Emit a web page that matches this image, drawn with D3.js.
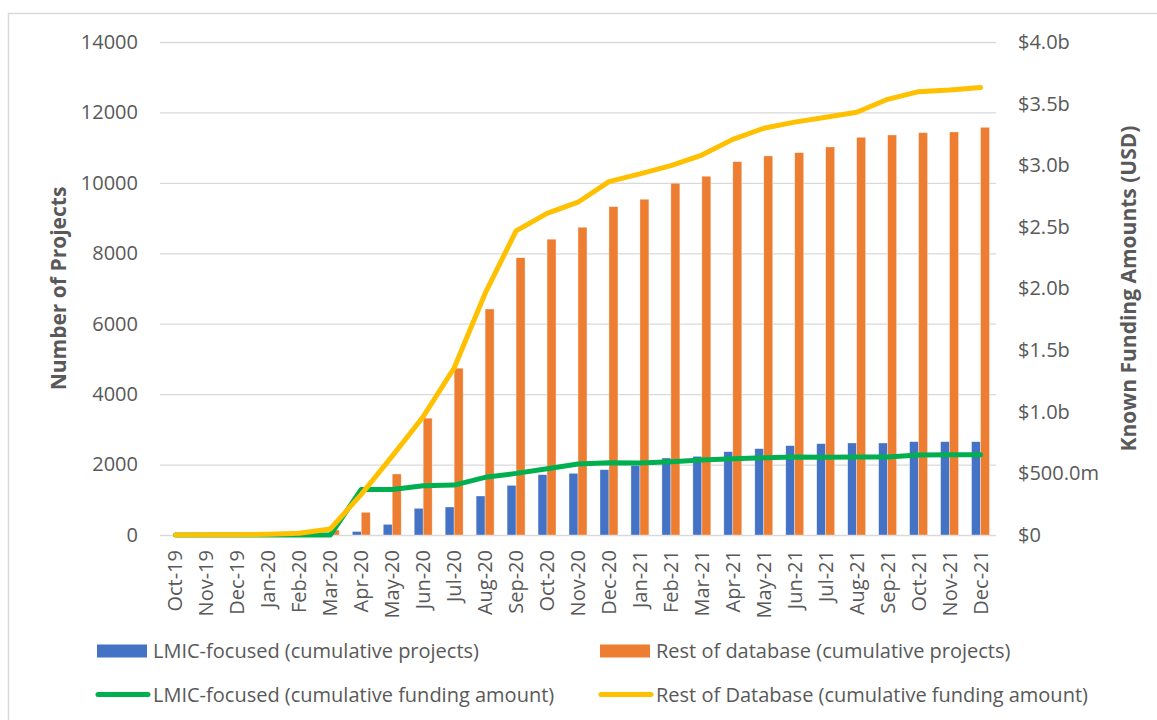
<!DOCTYPE html>
<html>
<head>
<meta charset="utf-8">
<script src="https://cdn.jsdelivr.net/npm/d3@7"></script>
<style>
  body { margin: 0; background: #fff; }
  svg { display: block; font-family: "Open Sans", sans-serif; }
</style>
</head>
<body>
<svg width="1157" height="720"></svg>
<script>
// data
const months = ['Oct-19','Nov-19','Dec-19','Jan-20','Feb-20','Mar-20','Apr-20','May-20','Jun-20',
  'Jul-20','Aug-20','Sep-20','Oct-20','Nov-20','Dec-20','Jan-21','Feb-21','Mar-21','Apr-21',
  'May-21','Jun-21','Jul-21','Aug-21','Sep-21','Oct-21','Nov-21','Dec-21'];

// cumulative projects (left axis)
const lmicProjects = [0,0,0,0,0,15,100,303,758,795,1108,1411,1713,1752,1855,1978,2187,2234,2366,
  2452,2537,2594,2613,2613,2651,2651,2651];
const restProjects = [0,0,0,0,0,142,645,1733,3318,4738,6418,7875,8400,8740,9325,9535,9990,10188,
  10603,10765,10857,11019,11295,11360,11426,11445,11578];

// cumulative funding, billions USD (right axis)
const lmicFunding = [0,0,0,0,0,0,0.37,0.37,0.40,0.405,0.468,0.50,0.538,0.576,0.587,0.584,0.595,
  0.608,0.619,0.627,0.633,0.630,0.633,0.633,0.649,0.651,0.651];
const restFunding = [0.001,0.002,0.003,0.006,0.014,0.049,0.33,0.64,0.96,1.355,1.96,2.467,2.61,2.70,
  2.867,2.93,2.997,3.083,3.21,3.30,3.35,3.39,3.43,3.535,3.597,3.61,3.63];

const projectTicks = [0,2000,4000,6000,8000,10000,12000,14000];
const fundingTicks = [0,0.5,1.0,1.5,2.0,2.5,3.0,3.5,4.0];
const fundingLabels = ['$0','$500.0m','$1.0b','$1.5b','$2.0b','$2.5b','$3.0b','$3.5b','$4.0b'];

const seriesNames = ['LMIC-focused (cumulative projects)','Rest of database (cumulative projects)',
  'LMIC-focused (cumulative funding amount)','Rest of Database (cumulative funding amount)'];
const colors = ['#4472C4','#ED7D31','#00B050','#FFC000'];

const $svg = d3.select('svg');
const plot = {left: 160, right: 996, top: 42, bottom: 535};
const textColor = '#595959';
const gridColor = '#d9d9d9';

// outer chart frame
$svg.append('rect')
  .attr('x', 8.5).attr('y', 13.5)
  .attr('width', 1160).attr('height', 720)
  .attr('fill', '#fff').attr('stroke', gridColor).attr('stroke-width', 1.5);

const x = d3.scaleBand()
  .domain(months)
  .range([plot.left, plot.right])
  .paddingInner(0.42)
  .paddingOuter(0.21);
const xSub = d3.scaleBand().domain([0, 1]).range([0, x.bandwidth()]);
const yLeft = d3.scaleLinear().domain([0, 14000]).range([plot.bottom, plot.top]);
const yRight = d3.scaleLinear().domain([0, 4]).range([plot.bottom, plot.top]);

// left axis + gridlines
const gLeft = $svg.append('g')
  .attr('transform', 'translate(' + plot.left + ',0)')
  .call(d3.axisLeft(yLeft)
    .tickValues(projectTicks)
    .tickFormat(d3.format('d'))
    .tickSize(-(plot.right - plot.left))
    .tickPadding(22));
gLeft.select('.domain').remove();
gLeft.selectAll('line').attr('stroke', gridColor).attr('stroke-width', 1.3);
gLeft.selectAll('text')
  .attr('fill', textColor)
  .style('font-size', '20px')
  .style('font-family', '"Open Sans", sans-serif');

// right axis
const gRight = $svg.append('g')
  .attr('transform', 'translate(' + plot.right + ',0)')
  .call(d3.axisRight(yRight)
    .tickValues(fundingTicks)
    .tickFormat((d, i) => fundingLabels[i])
    .tickSize(0)
    .tickPadding(22));
gRight.select('.domain').remove();
gRight.selectAll('text')
  .attr('fill', textColor)
  .style('font-size', '20px')
  .style('font-family', '"Open Sans", sans-serif');

// x axis, labels rotated
const gX = $svg.append('g')
  .attr('transform', 'translate(0,' + plot.bottom + ')')
  .call(d3.axisBottom(x).tickSize(0));
gX.select('.domain').remove();
gX.selectAll('text')
  .attr('fill', textColor)
  .style('font-size', '20px')
  .style('font-family', '"Open Sans", sans-serif')
  .attr('transform', 'rotate(-90)')
  .attr('x', -15)
  .attr('y', 0)
  .attr('dy', '0.35em')
  .style('text-anchor', 'end');

// bars
const barData = months.map((m, i) => ({month: m, values: [lmicProjects[i], restProjects[i]]}));
$svg.append('g')
  .selectAll('g')
  .data(barData)
  .join('g')
    .attr('transform', d => 'translate(' + x(d.month) + ',0)')
  .selectAll('rect')
  .data(d => d.values)
  .join('rect')
    .attr('x', (d, i) => xSub(i))
    .attr('width', xSub.bandwidth())
    .attr('y', d => yLeft(d))
    .attr('height', d => plot.bottom - yLeft(d))
    .attr('fill', (d, i) => colors[i])
    .attr('stroke', '#fff')
    .attr('stroke-opacity', 0.6)
    .attr('stroke-width', 0.6);

// funding lines
const line = d3.line()
  .x((d, i) => x(months[i]) + x.bandwidth() / 2)
  .y(d => yRight(d));

[lmicFunding, restFunding].forEach(function(series, k) {
  $svg.append('path')
    .datum(series)
    .attr('d', line)
    .attr('fill', 'none')
    .attr('stroke', colors[k + 2])
    .attr('stroke-width', 5)
    .attr('stroke-linejoin', 'round')
    .attr('stroke-linecap', 'round');
});

// axis titles
$svg.append('text')
  .attr('transform', 'translate(58,' + (plot.top + plot.bottom) / 2 + ') rotate(-90)')
  .attr('text-anchor', 'middle')
  .attr('dominant-baseline', 'central')
  .attr('fill', textColor)
  .style('font-size', '21px')
  .style('font-weight', 'bold')
  .text('Number of Projects');

$svg.append('text')
  .attr('transform', 'translate(1128,' + (plot.top + plot.bottom) / 2 + ') rotate(-90)')
  .attr('text-anchor', 'middle')
  .attr('dominant-baseline', 'central')
  .attr('fill', textColor)
  .style('font-size', '21px')
  .style('font-weight', 'bold')
  .text('Known Funding Amounts (USD)');

// legend
const legendCols = [97, 600];
const legendRows = [651, 694.5];
const legend = $svg.append('g')
  .selectAll('g')
  .data(seriesNames)
  .join('g')
    .attr('transform', (d, i) => 'translate(' + legendCols[i % 2] + ',' + legendRows[Math.floor(i / 2)] + ')');

legend.filter((d, i) => i < 2)
  .append('rect')
    .attr('x', 0).attr('y', -6.5)
    .attr('width', 50).attr('height', 13)
    .attr('fill', (d, i) => colors[i]);

legend.filter((d, i) => i >= 2)
  .append('line')
    .attr('x1', 1).attr('x2', 51)
    .attr('stroke', (d, i) => colors[i + 2])
    .attr('stroke-width', 5)
    .attr('stroke-linecap', 'round');

legend.append('text')
  .attr('x', 56)
  .attr('dy', '0.35em')
  .attr('fill', textColor)
  .style('font-size', '20px')
  .text(d => d);
</script>
</body>
</html>
